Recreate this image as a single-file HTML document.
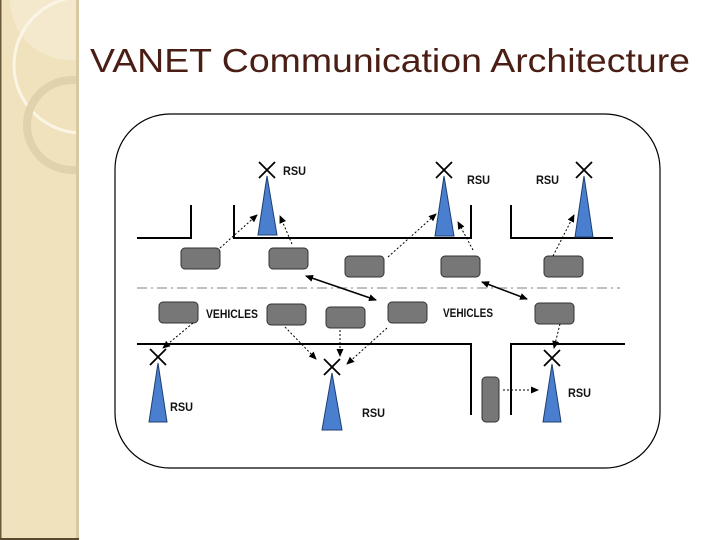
<!DOCTYPE html>
<html><head><meta charset="utf-8"><style>
html,body{margin:0;padding:0;background:#fff;}
svg{display:block}
</style></head><body>
<svg width="720" height="540" viewBox="0 0 720 540" xmlns="http://www.w3.org/2000/svg">
<defs>
<marker id="ah" markerWidth="8" markerHeight="8" refX="7" refY="4" orient="auto" markerUnits="userSpaceOnUse"><path d="M0,0.5 L8,4 L0,7.5 Z" fill="#000"/></marker>
<marker id="as" markerWidth="8" markerHeight="8" refX="1" refY="4" orient="auto" markerUnits="userSpaceOnUse"><path d="M8,0.5 L0,4 L8,7.5 Z" fill="#000"/></marker>
<clipPath id="sb"><rect x="0" y="0" width="78" height="540"/></clipPath>
</defs>
<rect x="0" y="0" width="78" height="540" fill="#f0e2bc"/>
<g clip-path="url(#sb)">
<circle cx="70" cy="0" r="60" fill="#f5ecd4" opacity="0.7"/>
<circle cx="82" cy="65" r="68" fill="none" stroke="#fbf5e6" stroke-width="3"/>
<circle cx="72" cy="125" r="45" fill="none" stroke="#e0d2ad" stroke-width="8"/>
</g>
<rect x="0" y="0" width="1.5" height="540" fill="#6b5a3a"/>
<rect x="76" y="0" width="3" height="540" fill="#d9c9a2"/>
<rect x="0" y="538" width="79" height="2" fill="#5a4a2e"/>
<text x="90" y="72" font-family="Liberation Sans, sans-serif" font-size="33" fill="#4a1e14" textLength="600" lengthAdjust="spacingAndGlyphs">VANET Communication Architecture</text>
<rect x="115" y="114" width="545" height="354" rx="55" ry="55" fill="none" stroke="#000" stroke-width="1.2"/>
<g stroke="#000" stroke-width="2" fill="none">
<path d="M137,238 H191 V205"/>
<path d="M234,205 V238 H471 V205"/>
<path d="M511,205 V238 H613"/>
<path d="M137,344 H471 V415"/>
<path d="M511,415 V344 H625"/>
</g>
<line x1="137" y1="288" x2="620" y2="288" stroke="#aaa" stroke-width="1.5" stroke-dasharray="10,4,2,4"/>
<g fill="#777" stroke="#333" stroke-width="1">
<rect x="181" y="248" width="39" height="21" rx="4"/>
<rect x="269" y="248" width="39" height="21" rx="4"/>
<rect x="345" y="256" width="39" height="21" rx="4"/>
<rect x="441" y="256" width="39" height="21" rx="4"/>
<rect x="544" y="256" width="39" height="21" rx="4"/>
<rect x="159" y="302" width="39" height="21" rx="4"/>
<rect x="267" y="304" width="39" height="21" rx="4"/>
<rect x="326" y="307" width="39" height="21" rx="4"/>
<rect x="388" y="302" width="39" height="21" rx="4"/>
<rect x="535" y="303" width="39" height="21" rx="4"/>
<rect x="482" y="377" width="17" height="45" rx="4"/>
</g>
<g fill="#4a7fcf" stroke="#1f3f70" stroke-width="1">
<path d="M267,176 L277,235 L258,235 Z"/>
<path d="M444,176 L454,236 L435,236 Z"/>
<path d="M584,176 L593,237 L575,237 Z"/>
<path d="M158,363 L167,422 L149,422 Z"/>
<path d="M332,373 L342,430 L322,430 Z"/>
<path d="M552,364 L561,422 L543,422 Z"/>
</g>
<g stroke="#000" stroke-width="1.8">
<path d="M259,162 L275,178 M275,162 L259,178"/>
<path d="M436,162 L452,178 M452,162 L436,178"/>
<path d="M576,162 L592,178 M592,162 L576,178"/>
<path d="M150,349 L166,365 M166,349 L150,365"/>
<path d="M324,359 L340,375 M340,359 L324,375"/>
<path d="M544,350 L560,366 M560,350 L544,366"/>
</g>
<g font-family="Liberation Sans, sans-serif" font-weight="bold" font-size="12" fill="#111">
<text x="283" y="175" textLength="23" lengthAdjust="spacingAndGlyphs">RSU</text>
<text x="467" y="184" textLength="23" lengthAdjust="spacingAndGlyphs">RSU</text>
<text x="536" y="184" textLength="23" lengthAdjust="spacingAndGlyphs">RSU</text>
<text x="170" y="411" textLength="23" lengthAdjust="spacingAndGlyphs">RSU</text>
<text x="362" y="417" textLength="23" lengthAdjust="spacingAndGlyphs">RSU</text>
<text x="568" y="397" textLength="23" lengthAdjust="spacingAndGlyphs">RSU</text>
<text x="206" y="318" textLength="52" lengthAdjust="spacingAndGlyphs">VEHICLES</text>
<text x="443" y="317" textLength="50" lengthAdjust="spacingAndGlyphs">VEHICLES</text>
</g>
<g stroke="#000" stroke-width="1" stroke-dasharray="2,2" fill="none" marker-end="url(#ah)">
<line x1="220" y1="248" x2="257" y2="215"/>
<line x1="292" y1="244" x2="280" y2="216"/>
<line x1="388" y1="257" x2="436" y2="214"/>
<line x1="473" y1="250" x2="458" y2="222"/>
<line x1="553" y1="256" x2="574" y2="215"/>
<line x1="560" y1="324" x2="554" y2="348"/>
<line x1="503" y1="390" x2="538" y2="390"/>
<line x1="193" y1="323" x2="163" y2="348"/>
<line x1="285" y1="327" x2="316" y2="359"/>
<line x1="340" y1="330" x2="340" y2="356"/>
<line x1="387" y1="328" x2="347" y2="364"/>
</g>
<g stroke="#000" stroke-width="1.5" marker-end="url(#ah)" marker-start="url(#as)">
<line x1="306" y1="276" x2="376" y2="300"/>
<line x1="482" y1="282" x2="527" y2="299"/>
</g>
</svg>
</body></html>
